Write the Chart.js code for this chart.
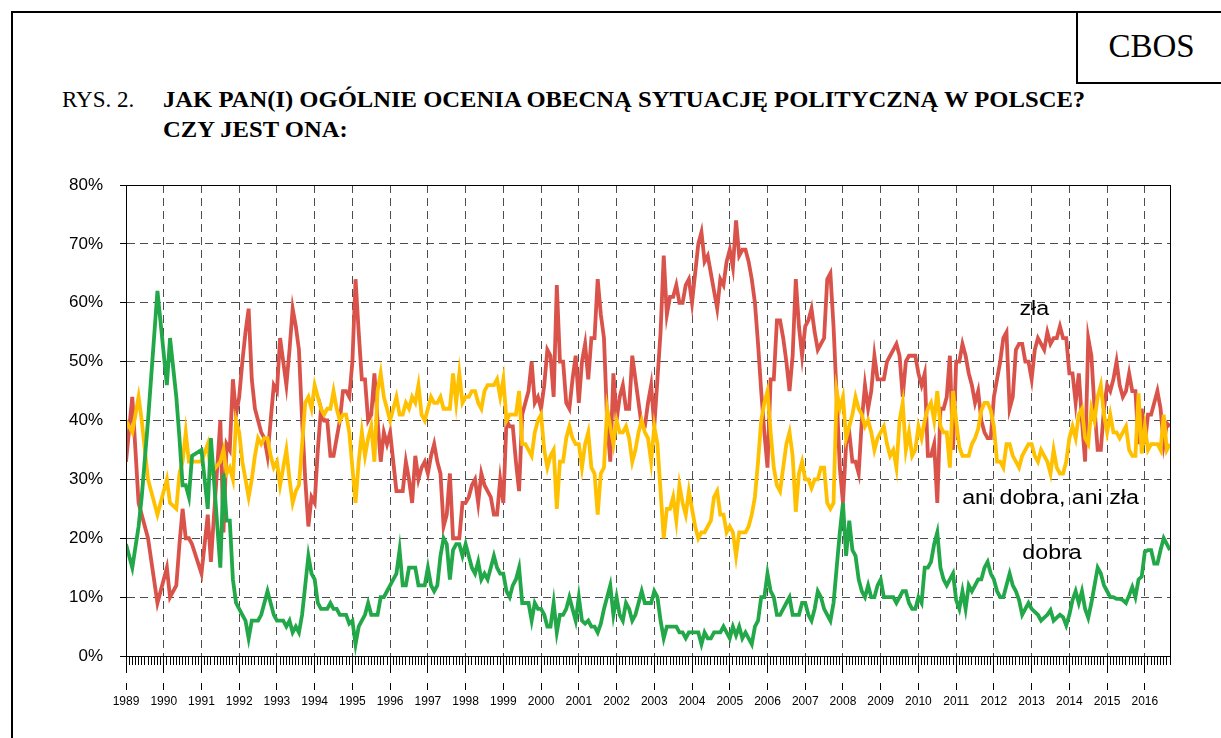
<!DOCTYPE html>
<html><head><meta charset="utf-8">
<script src="https://cdn.jsdelivr.net/npm/chart.js@4.4.0/dist/chart.umd.min.js"></script>
<style>
html,body{margin:0;padding:0;background:#fff;}
body{width:1221px;height:738px;position:relative;overflow:hidden;}
.frameTop{position:absolute;left:12px;top:11px;width:1209px;height:0;border-top:2px solid #000;}
.frameLeft{position:absolute;left:11px;top:11px;width:0;height:727px;border-left:2px solid #000;}
.cbos{position:absolute;left:1076px;top:11px;width:145px;height:73px;border-left:2px solid #000;border-bottom:2px solid #000;box-sizing:border-box;font:33px 'Liberation Serif','Times New Roman',serif;display:flex;align-items:center;justify-content:center;color:#000;padding-left:4px;}
.rys{position:absolute;left:62px;top:85px;font:23px/30px 'Liberation Serif','Times New Roman',serif;color:#000;white-space:nowrap;}
.title{position:absolute;left:163px;top:84px;font:bold 24px/30px 'Liberation Serif','Times New Roman',serif;color:#000;white-space:nowrap;transform:scaleX(1.026);transform-origin:0 0;}
#wrap{position:absolute;left:0;top:170px;width:1221px;height:546px;}
</style></head>
<body>
<div class="frameTop"></div>
<div class="frameLeft"></div>
<div class="cbos">CBOS</div>
<div class="rys">RYS. 2.</div>
<div class="title">JAK PAN(I) OGÓLNIE OCENIA OBECNĄ SYTUACJĘ POLITYCZNĄ W POLSCE?<br>CZY JEST ONA:</div>
<div id="wrap"><canvas id="c" width="1221" height="546"></canvas></div>
<script>
// Survey months: irregular in 1989-1991, monthly from 1992-01 to 2016-09
const earlyMonths = ["1989-01","1989-03","1989-05","1989-06","1989-08","1989-11","1990-02","1990-03","1990-05","1990-06","1990-07","1990-08","1990-09","1990-10","1991-01","1991-03","1991-04","1991-07","1991-08","1991-09","1991-10","1991-11","1991-12"];
const months = earlyMonths.slice();
for (let y = 1992; y <= 2016; y++) {
  for (let m = 1; m <= 12; m++) {
    if (y === 2016 && m > 9) break;
    months.push(y + "-" + String(m).padStart(2, "0"));
  }
}

const yearLabels = ["1989","1990","1991","1992","1993","1994","1995","1996","1997","1998","1999","2000","2001","2002","2003","2004","2005","2006","2007","2008","2009","2010","2011","2012","2013","2014","2015","2016"];
const yTickValues = [0,10,20,30,40,50,60,70,80];

// "zła"
const zla = [
  33,44,26,24,20,9,15,10,12,19,25,20,20,19,14,24,16,40,21,36,35,47,41,
  44,50,55,59,47,42,40,38,37,34,40,46,
  45,54,50,46,52,59,56,52,40,30,22,27,
  26,35,42,40,40,34,34,37,40,45,45,44,
  50,64,55,47,47,40,41,48,40,33,38,36,
  38,33,28,28,28,33,30,26,34,30,32,33,
  31,34,36,33,31,22,24,31,20,20,20,26,
  26,27,29,30,26,31,29,28,27,24,24,30,
  26,40,39,39,33,28,41,43,45,50,43,44,
  42,46,52,51,44,63,50,50,43,42,47,51,
  43,50,53,47,54,54,64,58,54,40,33,48,
  40,44,46,42,42,51,47,43,39,39,43,46,
  39,47,55,68,58,61,61,63,60,60,63,64,
  60,65,70,72,67,68,65,62,59,64,63,67,
  69,66,74,68,69,69,67,64,60,53,45,38,
  32,47,47,57,57,54,50,45,51,64,56,51,
  56,57,59,55,52,53,54,64,65,56,44,32,
  26,36,38,33,33,31,40,46,42,45,51,47,
  47,47,50,51,52,53,51,44,50,51,51,51,
  48,46,48,34,34,36,26,42,42,44,51,35,
  50,50,53,51,48,46,43,45,40,38,37,37,
  44,47,50,54,55,42,44,52,53,53,50,50,
  47,52,54,53,52,55,53,54,54,56,54,54,
  48,48,43,48,40,33,54,51,42,35,35,42,
  46,45,47,50,46,44,45,48,45,45,36,42,
  36,41,41,43,45,42,36,39.5,39
];

// "ani dobra, ani zła"
const aniDobraAniZla = [
  40,38,44,40,30,24,30,26,25,31,33,38,33,33,33,36,31,33,35,31,32,30,40,
  38,33,30,27,30,34,37,36,37,37,34,32,
  33,29,32,35,30,26,28,29,36,43,44,42,
  46,44,42,41,42,42,45,42,40,41,41,38,
  32,26,33,38,34,37,39,33,45,48,44,42,
  40,42,44,41,41,43,42,44,43,46,41,40,
  42,44,43,43,44,42,42,42,48,43,48,43,
  44,44,45,45,43,42,45,46,46,46,47,44,
  47,40,41,41,41,45,36,36,35,34,38,40,
  41,35,32,34,35,25,33,33,37,39,37,36,
  36,32,36,38,32,31,24,31,32,42,39,36,
  40,38,38,39,37,33,35,38,40,38,37,33,
  39,36,28,20,25,25,27,23,29,26,24,28,
  25,22,20,21,21,22,23,27,28,24,24,21,
  22,21,17,21,21,21,22,24,27,33,40,43,
  45,38,32,29,28,32,36,38,34,24.5,31,33,
  30,30,28.5,30,30,32,32,26,25,26,45,42,
  44,37,39,41,44,42,41,39,40,38,35,37,
  38,39,36,34,35,32,40,43,35,38,34,35,
  39,37,40,42,43,40,45,39,38,38,32,45,
  40,35.5,34,34,34,36,37,38.6,41.7,43,43,41.7,
  39,33,33,32,36,36,34,33,32,34,35,36,
  36,34,33,35,34,33,31,35,32,31,31,33,
  37,39,37,41,42,37,36,42,40,44,46,41,
  38,41,38,38,37,38,39,35,34,34,44.6,34.4,
  39,35,36,36,36,35,41,35,36
];

// "dobra"
const dobra = [
  19,15,22,27,40,62,46,54,44,37,29,29,27,34,35,25,37,15,31,23,23,13,9,
  8,7,6,3,6,6,6,7,9,11,9,7,
  6,6,6,5,6,4,5,4,7,12,17,14,
  13,9,8,8,8,9,8,8,7,7,7,5.5,
  6,2,5,6,7,9,7,7,7,10,10,11,
  12,13,14,18,12,12,15,15,15,12,12,12,
  15,12,11,12,17,20,19,13,18,19,19,17,
  19,17,15,14,16,13,14,13,15,17,15,14,
  14,11,10,12,13,15,9,9,9,6,9,8,
  8,7,5,5,9,4,7,7,8,10,8,6,
  10,6,5.5,6,5,5,4,5.5,8,10,12,7,
  10,7,6,9,8,6,7,9,11,9,9,9,
  11,10,6,3,5,5,5,5,4,4,3,4,
  4,4,4,2,4,3,3,4,4,4,5,4,
  3,5,3.5,5,3,4,3,2,5,6,10,10,
  14,11,10,7,7,8,9,10,7,7,7,9,
  9,7,6,8,11,10,8,7,6,9,15,21,
  26,17,23,18,17,13,11,10,12,10,10,12,
  13,10,10,10,10,9,10,11,11,9,8,8,
  10,9,15,15,16,19,21,15,13,12,13,14,
  9.5,8,11,8,12,11,12,13,13,15,16,14,
  13,11,10,10,12,14,12,11,9.5,7,8,9,
  8,7.5,7,6,6.5,7,7.8,6,6.5,7,6.6,5.2,
  7,9.5,11,9,11,8,6.5,9,12,15,14,12,
  11,10,10,9.7,9.7,9.5,9,10.3,11.7,10,13,13.5,
  17.7,18,18,15.7,15.7,18,20,19,18
];

const seriesNames = ["zła", "ani dobra, ani zła", "dobra"];
const seriesColors = ["#D9534A", "#FFC000", "#22A848"];

const toX = s => Number(s.slice(0, 4)) + (Number(s.slice(5, 7)) - 1) / 12;
const pts = arr => months.map((m, i) => ({ x: toX(m), y: arr[i] }));

const xMin = toX(months[0]);
const xMax = toX(months[months.length - 1]);
const monthCount = Math.round((xMax - xMin) * 12);

const SANS = "'Liberation Sans', Arial, sans-serif";
const GRID = "#4d4d4d";

// in-chart series labels (anchored in data coordinates, baseline)
const lineLabels = [
  { text: "zła", x: 2013.07, y: 57.9 },
  { text: "ani dobra, ani zła", x: 2013.50, y: 25.9 },
  { text: "dobra", x: 2013.54, y: 16.4 }
];
const LABEL_STRETCH = 1.16;

const labelPlugin = {
  id: "lineLabels",
  afterDatasetsDraw(chart) {
    const { ctx, scales } = chart;
    lineLabels.forEach(l => {
      const px = scales.x.getPixelForValue(l.x), py = scales.y.getPixelForValue(l.y);
      ctx.save();
      ctx.translate(px, py);
      ctx.scale(LABEL_STRETCH, 1);
      ctx.font = "20px " + SANS;
      ctx.fillStyle = "#000";
      ctx.textAlign = "center";
      ctx.textBaseline = "alphabetic";
      ctx.fillText(l.text, 0, 0);
      ctx.restore();
    });
  }
};
const framePlugin = {
  id: "frame",
  afterDatasetsDraw(chart) {
    const a = chart.chartArea, ctx = chart.ctx;
    ctx.save();
    ctx.strokeStyle = "#000";
    ctx.lineWidth = 1;
    ctx.strokeRect(Math.round(a.left) + 0.5, Math.round(a.top) + 0.5, Math.round(a.right - a.left), Math.round(a.bottom - a.top));
    ctx.restore();
  }
};

const mk = (i, arr, order) => ({
  label: seriesNames[i], data: pts(arr), borderColor: seriesColors[i], backgroundColor: seriesColors[i],
  borderWidth: 3.8, pointRadius: 0, tension: 0, order: order
});

new Chart(document.getElementById("c"), {
  type: "line",
  data: { datasets: [ mk(0, zla, 3), mk(1, aniDobraAniZla, 2), mk(2, dobra, 1) ] },
  options: {
    responsive: false, animation: false, devicePixelRatio: 1,
    layout: { padding: { left: 0, right: 51, top: 15, bottom: 0 } },
    plugins: { legend: { display: false }, tooltip: { enabled: false } },
    scales: {
      x: {
        type: "linear", min: xMin, max: xMax,
        afterBuildTicks: s => { const t = []; for (let i = 0; i <= monthCount; i++) t.push({ value: xMin + i / 12 }); s.ticks = t; },
        afterFit: s => { s.height = 60; s.paddingLeft = 0; s.paddingRight = 0; },
        ticks: { autoSkip: false, maxRotation: 0, minRotation: 0, padding: 4, color: "#000", font: { family: SANS, size: 12 },
          callback: (v, i) => (i % 12 === 0 ? yearLabels[i / 12] : "") },
        grid: {
          color: c => (c.index % 12 === 0 && c.index > 0) ? GRID : "rgba(0,0,0,0)",
          lineWidth: 1, tickLength: 34, tickColor: "#000", tickWidth: 1,
          tickBorderDash: c => (c.index % 12 === 0 ? [16, 10, 8, 100] : [8, 100])
        },
        border: { display: true, color: "#000", width: 1, dash: [8, 5] }
      },
      y: {
        min: 0, max: 80,
        afterFit: s => { s.width = 126; s.paddingTop = 0; s.paddingBottom = 0; },
        afterBuildTicks: s => { s.ticks = yTickValues.map(v => ({ value: v })); },
        ticks: { padding: 17, color: "#000", font: { family: SANS, size: 17 }, callback: v => v + "%" },
        grid: { color: GRID, lineWidth: 1, tickLength: 6, tickColor: "#000" },
        border: { display: true, color: "#000", width: 1, dash: [8, 5] }
      }
    }
  },
  plugins: [labelPlugin, framePlugin]
});
</script>
</body></html>
